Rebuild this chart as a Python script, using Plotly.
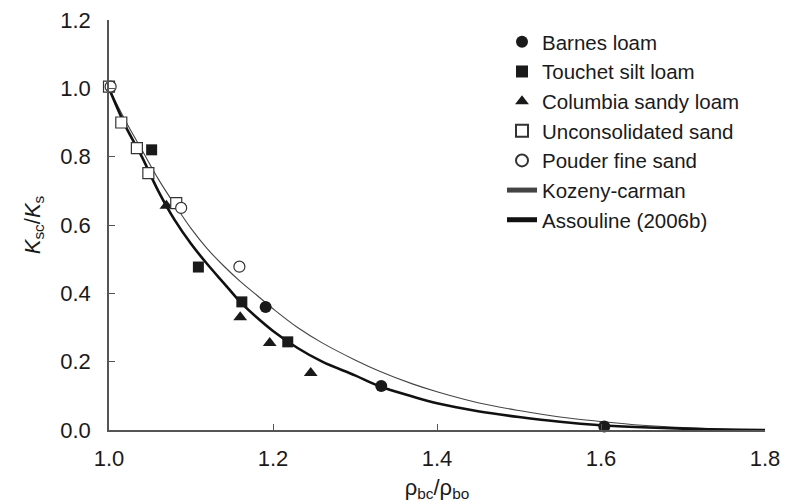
import plotly.graph_objects as go

# ---- data ----
barnes_x = [1.191, 1.332, 1.604]
barnes_y = [0.36, 0.129, 0.01]

touchet_x = [1.052, 1.109, 1.162, 1.218]
touchet_y = [0.82, 0.477, 0.375, 0.258]

columbia_x = [1.070, 1.160, 1.196, 1.246]
columbia_y = [0.656, 0.330, 0.255, 0.167]

uncons_x = [1.000, 1.015, 1.034, 1.048, 1.082]
uncons_y = [1.005, 0.900, 0.825, 0.752, 0.664]

pouder_x = [1.002, 1.088, 1.159]
pouder_y = [1.005, 0.650, 0.478]

kc_x = [1.00, 1.02, 1.04, 1.06, 1.08, 1.10, 1.12, 1.14, 1.16, 1.18, 1.20, 1.23,
        1.26, 1.30, 1.33, 1.37, 1.40, 1.45, 1.50, 1.55, 1.60, 1.65, 1.70, 1.75, 1.80]
kc_y = [1.00, 0.905, 0.82, 0.735, 0.66, 0.59, 0.53, 0.48, 0.435, 0.395, 0.355, 0.30,
        0.255, 0.205, 0.172, 0.135, 0.112, 0.08, 0.057, 0.038, 0.025, 0.014, 0.007, 0.002, 0.0]

as_x = [1.00, 1.02, 1.04, 1.06, 1.08, 1.10, 1.12, 1.14, 1.16, 1.18, 1.20, 1.23,
        1.26, 1.30, 1.33, 1.37, 1.40, 1.45, 1.50, 1.55, 1.60, 1.65, 1.70, 1.75, 1.80]
as_y = [1.00, 0.89, 0.80, 0.70, 0.615, 0.545, 0.485, 0.43, 0.375, 0.33, 0.29, 0.24,
        0.20, 0.16, 0.128, 0.098, 0.078, 0.055, 0.038, 0.024, 0.014, 0.008, 0.004, 0.001, 0.0]

x_ticks = [1.0, 1.2, 1.4, 1.6, 1.8]
x_ticklabels = ["1.0", "1.2", "1.4", "1.6", "1.8"]
y_ticks = [0.0, 0.2, 0.4, 0.6, 0.8, 1.0, 1.2]
y_ticklabels = ["0.0", "0.2", "0.4", "0.6", "0.8", "1.0", "1.2"]

FONT = "Liberation Sans, Arial, sans-serif"
INK = "#1a1a1a"

fig = go.Figure()

# lines first (drawn beneath markers), legend order set by legendrank
fig.add_trace(go.Scatter(x=kc_x, y=kc_y, mode="lines", name="Kozeny-carman",
                         legendgroup="f", legendrank=6,
                         line=dict(color="#444", width=1.1, shape="spline")))
fig.add_trace(go.Scatter(x=as_x, y=as_y, mode="lines", name="Assouline (2006b)",
                         legendgroup="g", legendrank=7,
                         line=dict(color="#111", width=2.6, shape="spline")))
fig.add_trace(go.Scatter(x=barnes_x, y=barnes_y, mode="markers", name="Barnes loam",
                         legendgroup="a", legendrank=1,
                         marker=dict(symbol="circle", size=12, color=INK)))
fig.add_trace(go.Scatter(x=touchet_x, y=touchet_y, mode="markers", name="Touchet silt loam",
                         legendgroup="b", legendrank=2,
                         marker=dict(symbol="square", size=11, color=INK)))
fig.add_trace(go.Scatter(x=columbia_x, y=columbia_y, mode="markers", name="Columbia sandy loam",
                         legendgroup="c", legendrank=3,
                         marker=dict(symbol="triangle-up", size=12, color=INK)))
fig.add_trace(go.Scatter(x=uncons_x, y=uncons_y, mode="markers", name="Unconsolidated sand",
                         legendgroup="d", legendrank=4,
                         marker=dict(symbol="square", size=11, color="white",
                                     line=dict(color="#333", width=1.2))))
fig.add_trace(go.Scatter(x=pouder_x, y=pouder_y, mode="markers", name="Pouder fine sand",
                         legendgroup="e", legendrank=5,
                         marker=dict(symbol="circle", size=11, color="white",
                                     line=dict(color="#333", width=1.2))))

fig.update_layout(
    width=797, height=503,
    margin=dict(l=109, r=32, t=20, b=73),
    paper_bgcolor="white", plot_bgcolor="white",
    font=dict(family=FONT, size=22, color=INK),
    showlegend=True,
    legend=dict(
        x=(502 - 109) / 656, y=(430 - 22) / 410, xanchor="left", yanchor="top",
        bgcolor="rgba(0,0,0,0)",
        font=dict(family=FONT, size=20.5, color=INK),
        traceorder="grouped",
        tracegroupgap=0,
        itemsizing="constant",
    ),
    xaxis=dict(
        range=[1.0, 1.8], tickvals=x_ticks, ticktext=x_ticklabels,
        showgrid=False, zeroline=False, showline=True, linecolor="#555", linewidth=1.5,
        ticks="inside", ticklen=6, tickcolor="#555", tickwidth=1.2,
        ticklabelstandoff=8,
        tickfont=dict(size=22),
        title=dict(text="ρ<sub>bc</sub>/ρ<sub>bo</sub>", font=dict(size=22), standoff=9),
        automargin=False,
    ),
    yaxis=dict(
        range=[0.0, 1.2], tickvals=y_ticks, ticktext=y_ticklabels,
        showgrid=False, zeroline=False, showline=True, linecolor="#555", linewidth=1.5,
        ticks="inside", ticklen=6, tickcolor="#555", tickwidth=1.2,
        ticklabelstandoff=12,
        tickfont=dict(size=22),
        title=dict(text="<i>K</i><sub>sc</sub>/<i>K</i><sub>s</sub>", font=dict(size=22), standoff=14),
        automargin=False,
    ),
)

for tr in fig.data:
    tr.cliponaxis = False

fig.write_html("out.html")
